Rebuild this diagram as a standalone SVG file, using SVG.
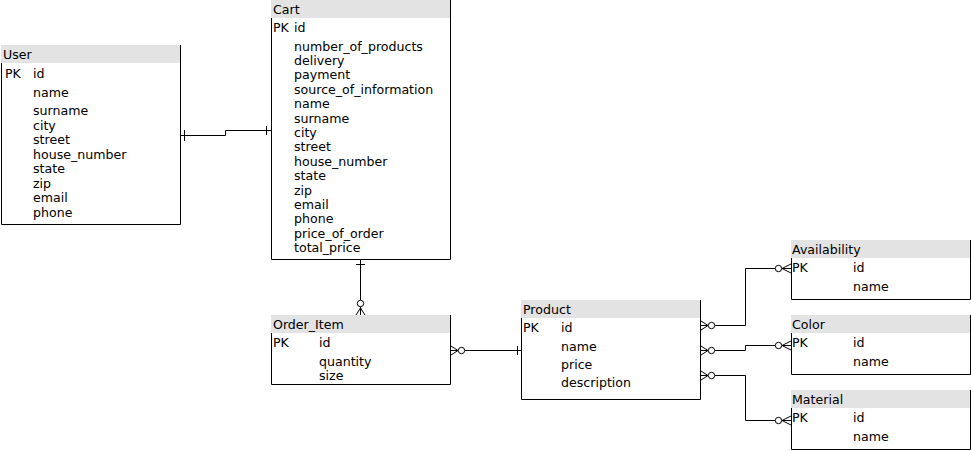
<svg xmlns="http://www.w3.org/2000/svg" width="971" height="451" viewBox="0 0 971 451">
<style>
.box{fill:#fff;stroke:none}
.brd{fill:none;stroke:#000;stroke-width:1}
.hdr{fill:#e3e3e3;stroke:none}
text{font-family:"DejaVu Sans",Verdana,sans-serif;font-size:12.6px;fill:#000}
.c{fill:none;stroke:#000;stroke-width:1}
.o{fill:#fff;stroke:#000;stroke-width:1}
</style>
<rect width="971" height="451" fill="#fff"/>
<g id="User">
<rect class="box" x="1.5" y="45.5" width="179" height="179"/>
<rect class="hdr" x="1" y="45" width="180" height="18"/>
<path class="brd" d="M1.5 63 V224.5 H180.5 V45"/>
<text x="3" y="59">User</text>
<text x="5" y="78">PK</text>
<text x="33" y="78">id</text>
<text x="33" y="97">name</text>
<text x="33" y="115">surname</text>
<text x="33" y="129.5">city</text>
<text x="33" y="144">street</text>
<text x="33" y="158.5">house_number</text>
<text x="33" y="173">state</text>
<text x="33" y="187.5">zip</text>
<text x="33" y="202">email</text>
<text x="33" y="216.5">phone</text>
</g>
<g id="Cart">
<rect class="box" x="271.5" y="0.5" width="179" height="259"/>
<rect class="hdr" x="271" y="0" width="180" height="18"/>
<path class="brd" d="M271.5 18 V259.5 H450.5 V0"/>
<text x="273" y="14">Cart</text>
<text x="273" y="32">PK</text>
<text x="294" y="32">id</text>
<text x="294" y="51">number_of_products</text>
<text x="294" y="65">delivery</text>
<text x="294" y="79">payment</text>
<text x="294" y="94">source_of_information</text>
<text x="294" y="108">name</text>
<text x="294" y="123">surname</text>
<text x="294" y="137">city</text>
<text x="294" y="151">street</text>
<text x="294" y="166">house_number</text>
<text x="294" y="180">state</text>
<text x="294" y="195">zip</text>
<text x="294" y="209">email</text>
<text x="294" y="223">phone</text>
<text x="294" y="238">price_of_order</text>
<text x="294" y="252">total_price</text>
</g>
<g id="Order_Item">
<rect class="box" x="271.5" y="315.5" width="179" height="69"/>
<rect class="hdr" x="271" y="315" width="180" height="18"/>
<path class="brd" d="M271.5 333 V384.5 H450.5 V315"/>
<text x="273" y="329">Order_Item</text>
<text x="273" y="347">PK</text>
<text x="319" y="347">id</text>
<text x="319" y="366">quantity</text>
<text x="319" y="380">size</text>
</g>
<g id="Product">
<rect class="box" x="521.5" y="300.5" width="179" height="99"/>
<rect class="hdr" x="521" y="300" width="180" height="18"/>
<path class="brd" d="M521.5 318 V399.5 H700.5 V300"/>
<text x="523" y="314">Product</text>
<text x="523" y="332">PK</text>
<text x="561" y="332">id</text>
<text x="561" y="351">name</text>
<text x="561" y="369">price</text>
<text x="561" y="387">description</text>
</g>
<g id="Availability">
<rect class="box" x="791.5" y="240.5" width="179" height="59"/>
<rect class="hdr" x="791" y="240" width="180" height="18"/>
<path class="brd" d="M791.5 258 V299.5 H970.5 V240"/>
<text x="792" y="254">Availability</text>
<text x="792" y="272">PK</text>
<text x="853" y="272">id</text>
<text x="853" y="291">name</text>
</g>
<g id="Color">
<rect class="box" x="791.5" y="315.5" width="179" height="59"/>
<rect class="hdr" x="791" y="315" width="180" height="18"/>
<path class="brd" d="M791.5 333 V374.5 H970.5 V315"/>
<text x="792" y="329">Color</text>
<text x="792" y="347">PK</text>
<text x="853" y="347">id</text>
<text x="853" y="366">name</text>
</g>
<g id="Material">
<rect class="box" x="791.5" y="390.5" width="179" height="59"/>
<rect class="hdr" x="791" y="390" width="180" height="18"/>
<path class="brd" d="M791.5 408 V449.5 H970.5 V390"/>
<text x="792" y="404">Material</text>
<text x="792" y="422">PK</text>
<text x="853" y="422">id</text>
<text x="853" y="441">name</text>
</g>
<g id="connectors">
<path class="c" d="M181 135.5 H225.5 V130.5 H271"/>
<path class="c" d="M184.5 130 V141 M266.5 126 V135"/>
<path class="c" d="M360.5 260 V300"/>
<path class="c" d="M356 264.5 H365"/>
<circle class="o" cx="360.5" cy="303.5" r="3.2"/>
<path class="c" d="M360.5 307 V315 M360.5 308 L356 315 M360.5 308 L365 315"/>
<path class="c" d="M465 350.5 H521"/>
<path class="c" d="M517.5 346 V355"/>
<circle class="o" cx="461.5" cy="350.5" r="3.2"/>
<path class="c" d="M451 350.5 H458 M458 350.5 L451 346 M458 350.5 L451 355"/>
<path class="c" d="M715 325.5 H745.5 V268.5 H775"/>
<circle class="o" cx="711.5" cy="325.5" r="3.2"/>
<path class="c" d="M701 325.5 H708 M708 325.5 L701 321 M708 325.5 L701 330"/>
<circle class="o" cx="778.5" cy="268.5" r="3.2"/>
<path class="c" d="M782 268.5 H791 M782 268.5 L791 264 M782 268.5 L791 273"/>
<path class="c" d="M715 350.5 H745.5 V345.5 H775"/>
<circle class="o" cx="711.5" cy="350.5" r="3.2"/>
<path class="c" d="M701 350.5 H708 M708 350.5 L701 346 M708 350.5 L701 355"/>
<circle class="o" cx="778.5" cy="345.5" r="3.2"/>
<path class="c" d="M782 345.5 H791 M782 345.5 L791 341 M782 345.5 L791 350"/>
<path class="c" d="M715 375.5 H745.5 V420.5 H775"/>
<circle class="o" cx="711.5" cy="375.5" r="3.2"/>
<path class="c" d="M701 375.5 H708 M708 375.5 L701 371 M708 375.5 L701 380"/>
<circle class="o" cx="778.5" cy="420.5" r="3.2"/>
<path class="c" d="M782 420.5 H791 M782 420.5 L791 416 M782 420.5 L791 425"/>
</g>
</svg>
